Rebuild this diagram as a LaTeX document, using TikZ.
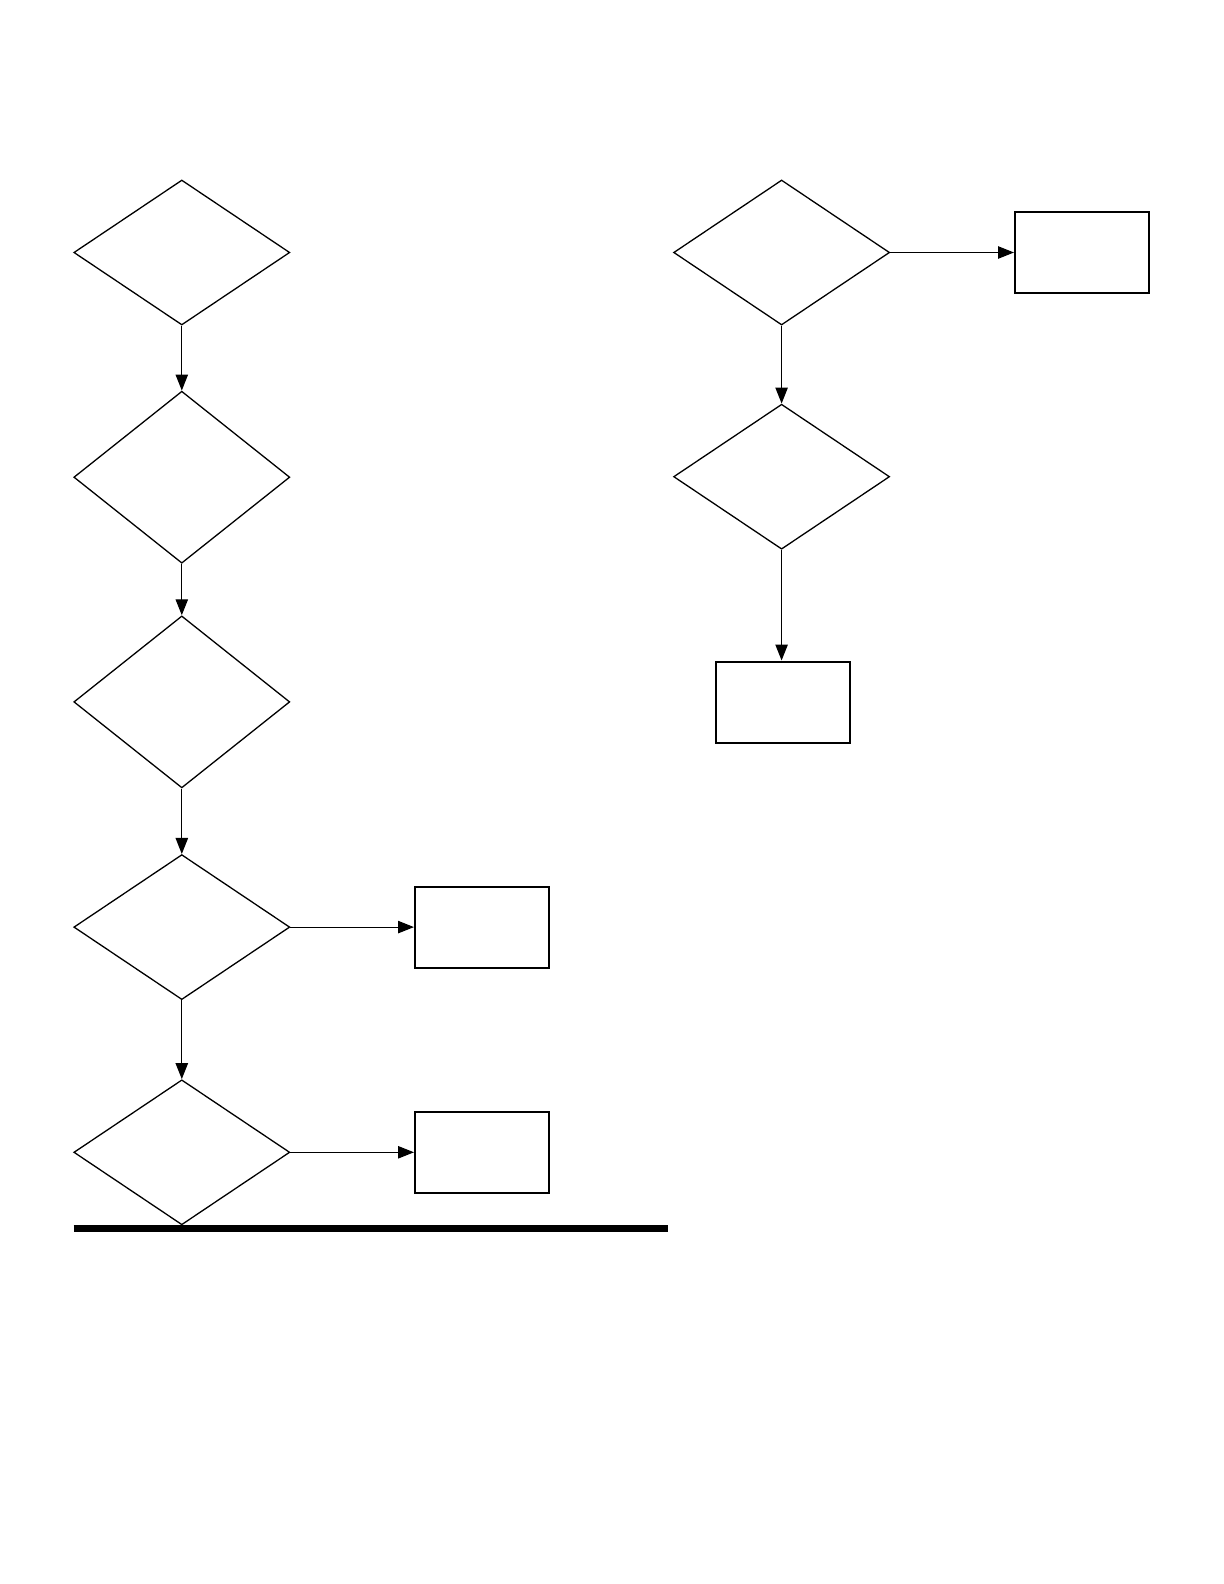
\documentclass[tikz,border=0pt]{standalone}
\usetikzlibrary{shapes.geometric,arrows.meta}
\begin{document}
\begin{tikzpicture}[x=0.5pt,y=-0.5pt,
  dec/.style={draw,diamond,inner sep=0pt,minimum width=108pt,minimum height=72.5pt,line width=0.65pt},
  dectall/.style={dec,minimum height=86pt},
  box/.style={draw,rectangle,inner sep=0pt,minimum width=67pt,minimum height=40.5pt,line width=1pt},
  arr/.style={line width=0.6pt,-{Triangle[length=8pt,width=6.2pt]}}]
\useasboundingbox (0,0) rectangle (1224,1584);
% left column
\node[dec] (d1) at (181.8,252.5) {};
\node[dectall] (d2) at (181.8,477.2) {};
\node[dectall] (d3) at (181.8,701.9) {};
\node[dec] (d4) at (181.8,927.1) {};
\node[dec] (d5) at (181.8,1152.3) {};
\node[box] (b4) at (482,927.1) {};
\node[box] (b5) at (482,1152.3) {};
% right column
\node[dec] (d6) at (781.6,252.5) {};
\node[dec] (d7) at (781.6,476.7) {};
\node[box] (r1) at (1082,252.5) {};
\node[box] (r2) at (782.6,702) {};
% connectors
\draw[arr] (d1.south) -- (d2.north);
\draw[arr] (d2.south) -- (d3.north);
\draw[arr] (d3.south) -- (d4.north);
\draw[arr] (d4.south) -- (d5.north);
\draw[arr] (d4.east) -- (b4.west);
\draw[arr] (d5.east) -- (b5.west);
\draw[arr] (d6.east) -- (r1.west);
\draw[arr] (d6.south) -- (d7.north);
\draw[arr] (d7.south) -- (d7.south |- r2.north);
% thick bar
\coordinate (barL) at (73.7,1228.5);
\coordinate (barR) at (667.5,1228.5);
\draw[line width=3.8pt] (barL) -- (barR);
\end{tikzpicture}
\end{document}
